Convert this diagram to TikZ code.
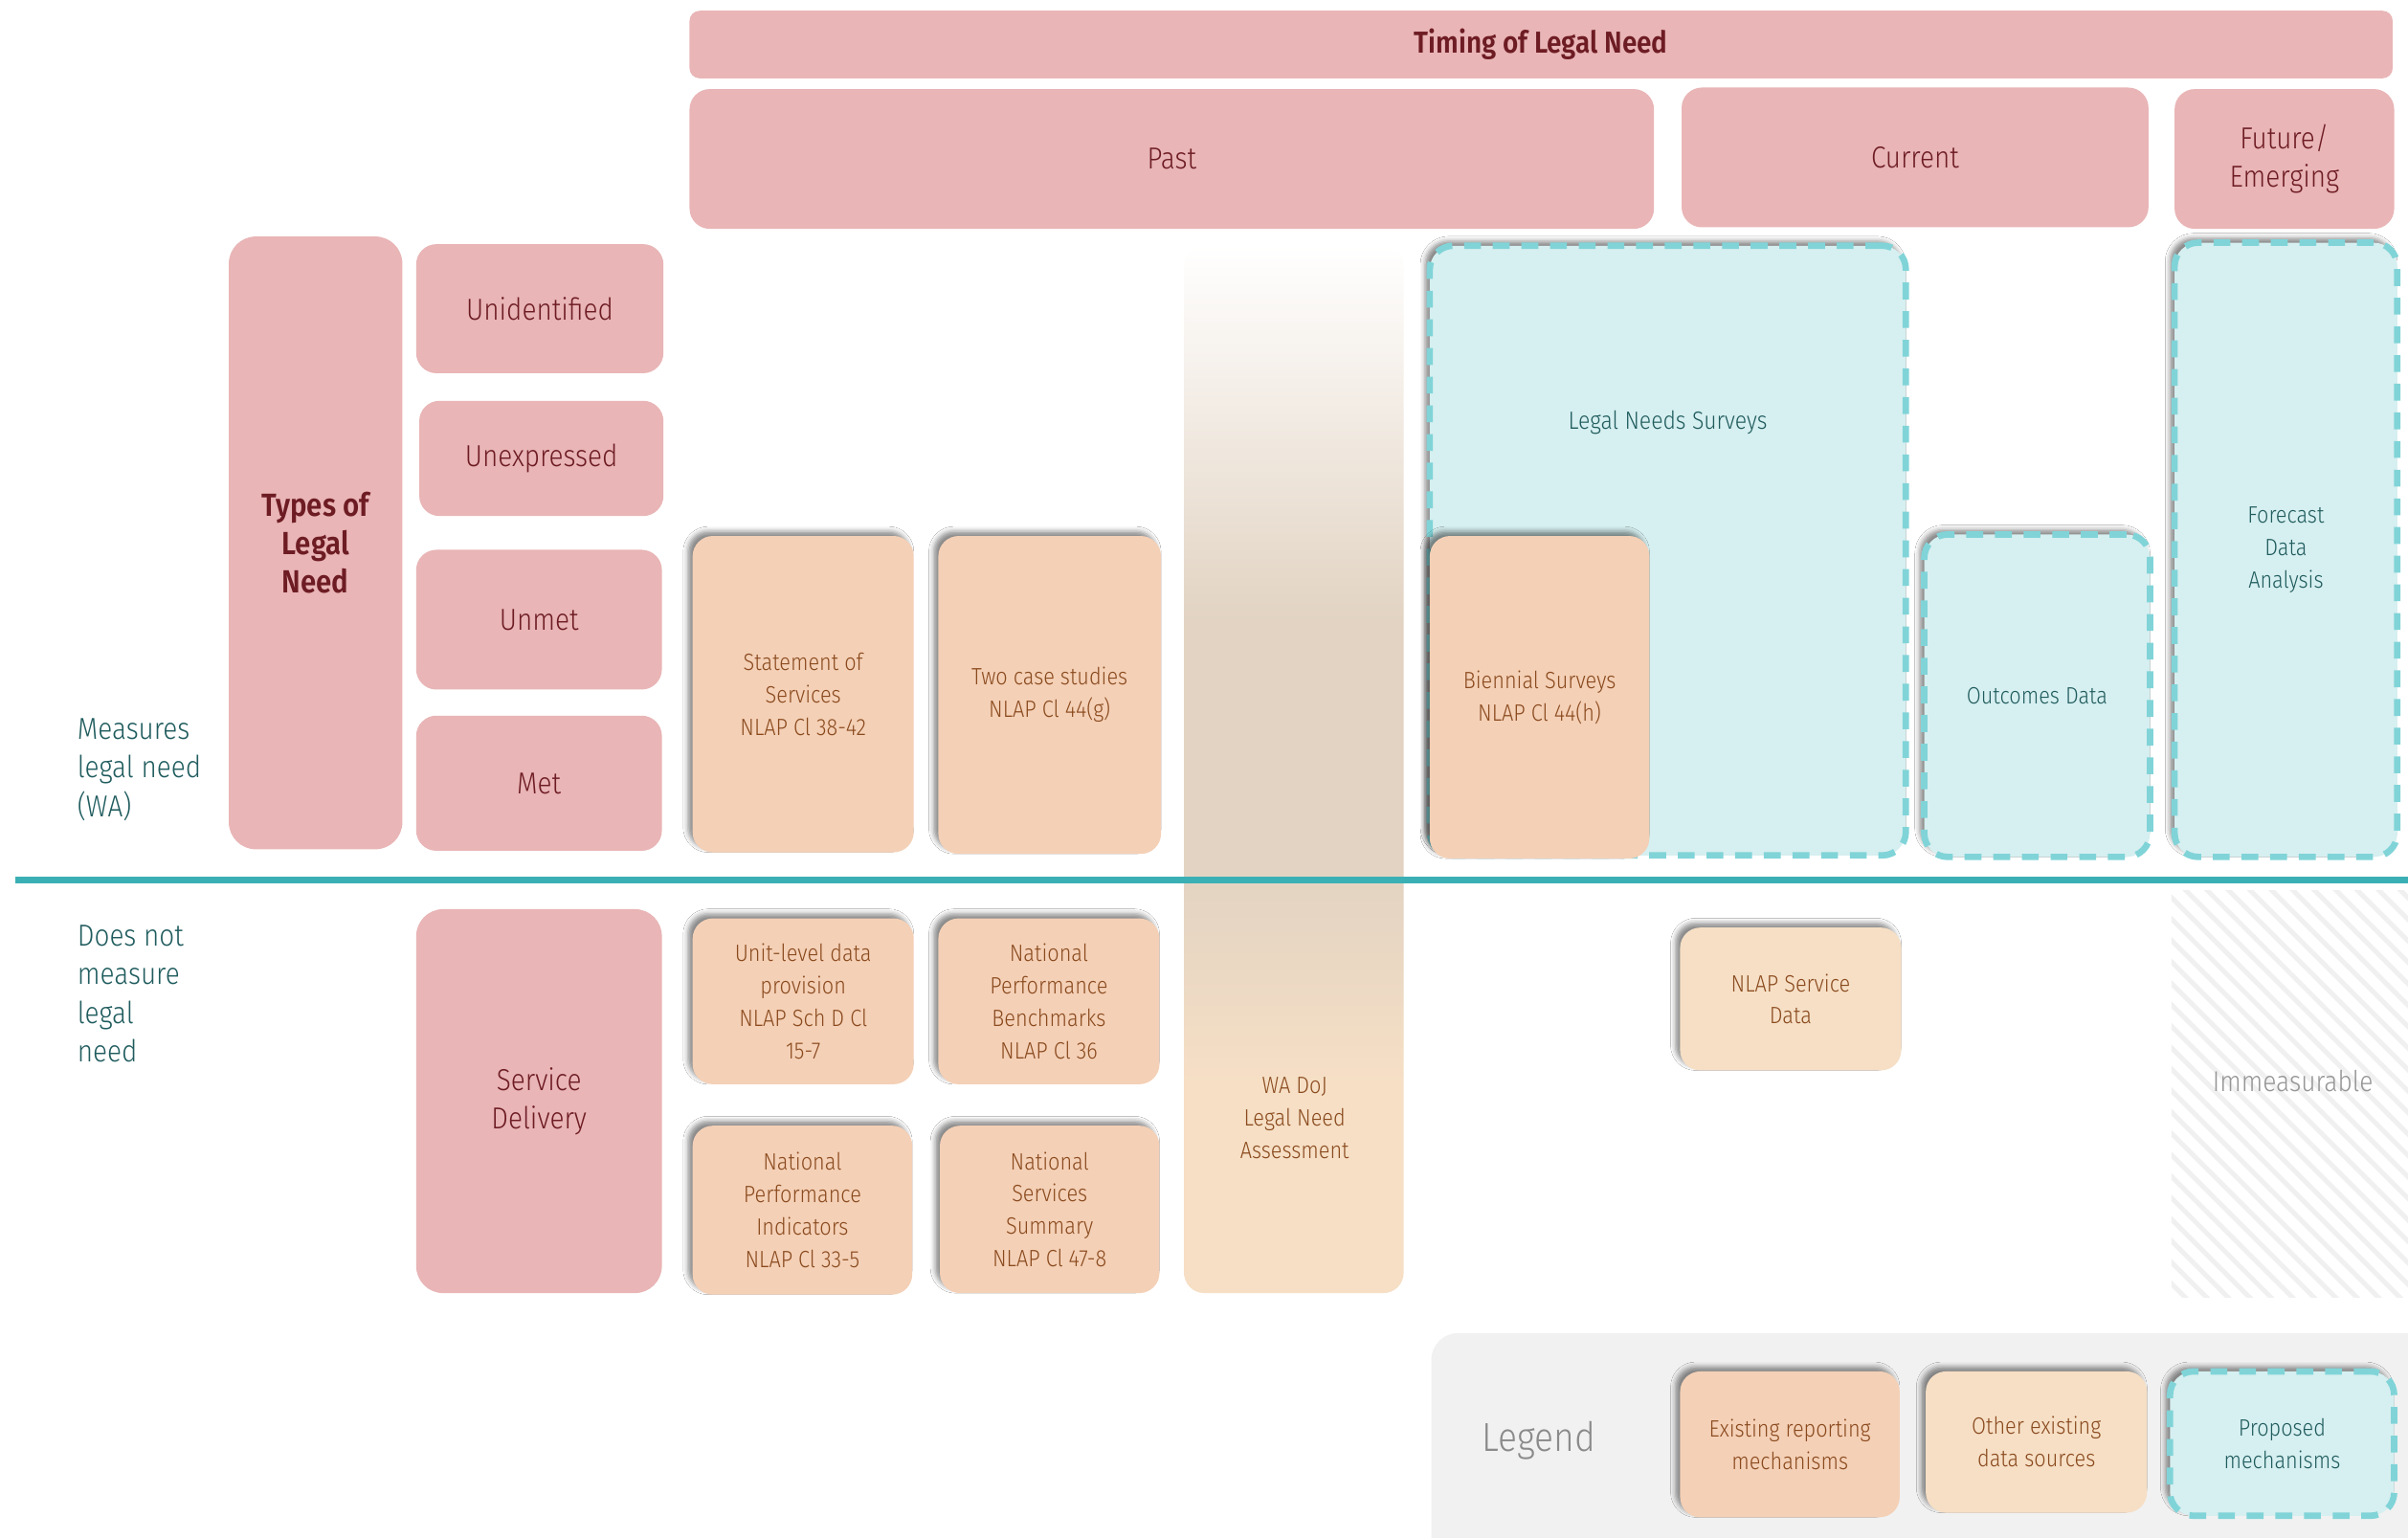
\documentclass[tikz,border=0pt]{standalone}
\usepackage{fontspec}
\setmainfont{Fira Sans Light}[FakeStretch=0.88, BoldFont={Fira Sans SemiBold}]
\usepackage{tikz}
\usetikzlibrary{positioning,shadows.blur,patterns.meta}
\definecolor{legal-pink}{RGB}{233,181,182}
\definecolor{maroon-text}{RGB}{110,28,36}
\definecolor{peach}{RGB}{244,208,182}
\definecolor{light-peach}{RGB}{246,223,197}
\definecolor{brown-text}{RGB}{138,74,30}
\definecolor{aqua-fill}{RGB}{214,239,240}
\definecolor{aqua-dash}{RGB}{128,212,216}
\definecolor{teal-text}{RGB}{32,92,94}
\definecolor{teal-line}{RGB}{58,176,181}
\definecolor{legend-gray}{RGB}{241,241,241}
\definecolor{grey-text}{RGB}{138,138,138}
\definecolor{tan}{RGB}{226,211,194}
\pgfdeclareverticalshading{dojfade}{100bp}{color(0bp)=(light-peach); color(35bp)=(light-peach); color(45bp)=(tan); color(57bp)=(tan); color(75bp)=(white); color(100bp)=(white)}

\begin{document}
\begin{tikzpicture}
[
  x=0.016cm, y=-0.016cm,
  wh/.style 2 args={minimum width=#1*0.016cm, minimum height=#2*0.016cm},
  shade box/.style={blur shadow={shadow xshift=-1.4pt, shadow yshift=1.4pt, shadow blur radius=1.4pt, shadow opacity=45}},
  pinkbox/.style={rectangle, fill=legal-pink, rounded corners=6pt, text=maroon-text, align=center, inner sep=0pt, font=\fontsize{9}{11.4}\selectfont},
  peachbox/.style={rectangle, fill=peach, rounded corners=6pt, text=brown-text, align=center, inner sep=0pt, font=\fontsize{7}{9.6}\selectfont, shade box},
  lightbox/.style={peachbox, fill=light-peach},
  dashbox/.style={rectangle, fill=aqua-fill, draw=aqua-dash, line width=1.9pt, dash pattern=on 5pt off 3.5pt, rounded corners=7pt, text=teal-text, align=center, inner sep=0pt, font=\fontsize{7}{9.6}\selectfont, shade box},
  sidetext/.style={text=teal-text, align=left, anchor=west, inner sep=0pt, font=\fontsize{9}{11.5}\selectfont},
]
\clip (0,0) rectangle (1568,1001);
\fill[white] (0,0) rectangle (1568,1001);

\node[pinkbox, wh={1109}{44}, rounded corners=3pt, font=\fontsize{9}{11}\selectfont\bfseries] (timing) at (1003.5,29) {Timing of Legal Need};
\node[pinkbox, wh={628}{91}] (past) at (763,103.5) {Past};
\node[pinkbox, wh={304}{91}] (current) at (1247,102.5) {Current};
\node[pinkbox, wh={143}{91}] (future) at (1487.5,103.5) {Future/\\Emerging};

\node[pinkbox, wh={113}{399}, rounded corners=8pt, font=\fontsize{9.5}{11.4}\selectfont\bfseries] (types) at (205.5,353.5) {Types of\\Legal\\Need};
\node[pinkbox, wh={161}{84}] (unidentified) at (351.5,201) {Unidentified};
\node[pinkbox, wh={159}{75}] (unexpressed) at (352.5,298.5) {Unexpressed};
\node[pinkbox, wh={160}{91}] (unmet) at (351,403.5) {Unmet};
\node[pinkbox, wh={160}{88}] (met) at (351,510) {Met};
\node[pinkbox, wh={160}{250}, rounded corners=8pt] (service) at (351,717) {Service\\Delivery};

\node[sidetext] (measures) at (50,501) {Measures\\legal need\\(WA)};
\node[sidetext] (doesnot) at (50,647) {Does not\\measure\\legal\\need};

\node[rectangle, wh={143}{682}, rounded corners=6pt, shading=dojfade] (dojcol) at (842.5,501) {};
\node[text=brown-text, align=center, font=\fontsize{7}{9.6}\selectfont] (doj) at (843,728) {WA DoJ\\Legal Need\\Assessment};

\node[peachbox, wh={144}{206}] (statement) at (523,452) {Statement of\\Services\\NLAP Cl 38-42};
\node[peachbox, wh={145}{207}] (casestudies) at (683.5,452.5) {Two case studies\\NLAP Cl 44(g)};
\node[peachbox, wh={144}{108}] (unitlevel) at (523,652) {Unit-level data\\provision\\NLAP Sch D Cl\\15-7};
\node[peachbox, wh={144}{108}] (benchmarks) at (683,652) {National\\Performance\\Benchmarks\\NLAP Cl 36};
\node[peachbox, wh={143}{110}] (indicators) at (522.5,788) {National\\Performance\\Indicators\\NLAP Cl 33-5};
\node[peachbox, wh={143}{109}] (summary) at (683.5,787.5) {National\\Services\\Summary\\NLAP Cl 47-8};

\node[dashbox, wh={310}{397}] (surveys) at (1086,358.5) {};
\node[text=teal-text, font=\fontsize{7.4}{9.6}\selectfont] (surveystext) at (1086,275) {Legal Needs Surveys};
\node[peachbox, wh={143}{210}] (biennial) at (1002.5,454) {Biennial Surveys\\NLAP Cl 44(h)};
\node[dashbox, wh={147}{210}] (outcomes) at (1326.5,453) {Outcomes Data};
\node[dashbox, wh={145}{400}] (forecast) at (1488.5,358) {Forecast\\Data\\Analysis};

\node[lightbox, wh={144}{93}] (servicedata) at (1166,650.5) {NLAP Service\\Data};
\node[rectangle, wh={160}{265}, pattern={Lines[angle=-45,distance=4.5pt,line width=1.4pt]}, pattern color=black!6] (hatch) at (1494,712.5) {};
\node[text=grey-text!90, font=\fontsize{8.5}{10}\selectfont] (immeasurable) at (1493,704) {Immeasurable};

\coordinate (sepL) at (10,573);
\coordinate (sepR) at (1568,573);
\draw[teal-line, line width=1.8pt] (sepL) -- (sepR);

\node[rectangle, fill=legend-gray, rounded corners=8pt, wh={668}{172}] (legendbox) at (1266,954) {};
\node[text=grey-text, font=\fontsize{12}{14}\selectfont] (legend) at (1002,938) {Legend};
\node[peachbox, wh={143}{95}] (existing) at (1165.5,940.5) {Existing reporting\\mechanisms};
\node[lightbox, wh={144}{92}] (other) at (1326,939) {Other existing\\data sources};
\node[dashbox, wh={146}{94}] (proposed) at (1486,940) {Proposed\\mechanisms};
\end{tikzpicture}
\end{document}
